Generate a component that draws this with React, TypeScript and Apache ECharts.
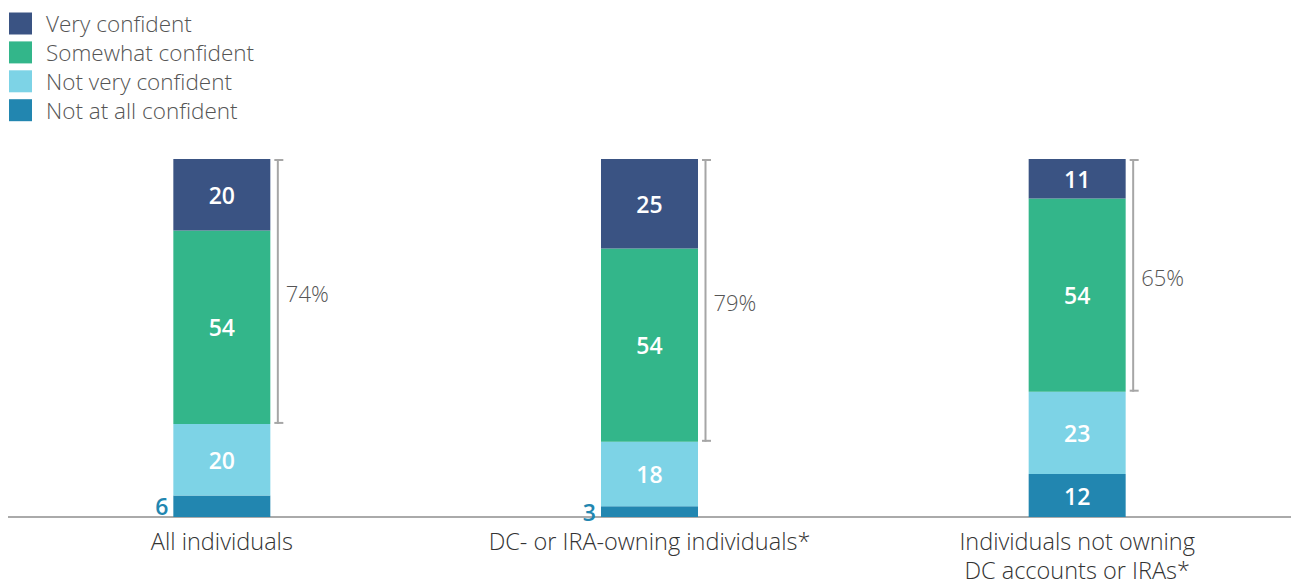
import React, { useEffect, useRef } from "react";
import * as echarts from "echarts";

const categories = [
  "All individuals",
  "DC- or IRA-owning individuals*",
  "Individuals not owning\nDC accounts or IRAs*",
];
const seriesNames = ["Very confident", "Somewhat confident", "Not very confident", "Not at all confident"];
const veryConfident = [20, 25, 11];
const somewhatConfident = [54, 54, 54];
const notVeryConfident = [20, 18, 23];
const notAtAllConfident = [6, 3, 12];
const confidentTotals = [74, 79, 65];

const colors = {
  very: "#3a5383",
  somewhat: "#33b68a",
  notVery: "#7dd3e6",
  notAtAll: "#2286b0",
};

const FONT = "'Open Sans'";

export default function App() {
  const ref = useRef<HTMLDivElement>(null);
  useEffect(() => {
    if (!ref.current) return;
    document.body.style.margin = "0";
    const chart = echarts.init(ref.current, undefined, { renderer: "svg" });
    const barWidth = 97;
    const insideLabel = {
      show: true,
      position: "inside",
      color: "#ffffff",
      fontFamily: FONT,
      fontWeight: 600,
      fontSize: 23,
    };
    const bracketData = categories.map((_, i) => [
      i,
      notAtAllConfident[i] + notVeryConfident[i],
      notAtAllConfident[i] + notVeryConfident[i] + somewhatConfident[i] + veryConfident[i],
      confidentTotals[i],
    ]);
    const option: any = {
      animation: false,
      textStyle: { fontFamily: FONT },
      legend: {
        orient: "vertical",
        left: 1,
        top: 4,
        padding: 0,
        itemWidth: 23,
        itemHeight: 22,
        itemGap: 5.9,
        icon: "rect",
        data: seriesNames,
        selectedMode: false,
        textStyle: {
          fontFamily: FONT,
          fontSize: 22.5,
          fontWeight: 300,
          color: "#555555",
          padding: [0, 0, 0, 9],
        },
      },
      grid: { left: 0, right: 0, top: 151, bottom: 63, containLabel: false, outerBoundsMode: "none" },
      xAxis: {
        type: "category",
        data: categories,
        axisTick: { show: false },
        axisLine: { lineStyle: { color: "#aaaaaa", width: 2 } },
        axisLabel: {
          color: "#333333",
          fontFamily: FONT,
          fontSize: 23.5,
          fontWeight: 300,
          margin: 9,
          lineHeight: 29,
          interval: 0,
        },
      },
      yAxis: { type: "value", min: 0, max: 100, show: false },
      series: [
        {
          name: "Not at all confident",
          type: "bar",
          stack: "s",
          barWidth,
          itemStyle: { color: colors.notAtAll },
          label: insideLabel,
          data: notAtAllConfident.map((v) =>
            v < 8
              ? { value: v, label: { position: "left", color: colors.notAtAll, distance: 5 } }
              : v
          ),
        },
        {
          name: "Not very confident",
          type: "bar",
          stack: "s",
          barWidth,
          itemStyle: { color: colors.notVery },
          label: insideLabel,
          data: notVeryConfident,
        },
        {
          name: "Somewhat confident",
          type: "bar",
          stack: "s",
          barWidth,
          itemStyle: { color: colors.somewhat },
          label: insideLabel,
          data: somewhatConfident,
        },
        {
          name: "Very confident",
          type: "bar",
          stack: "s",
          barWidth,
          itemStyle: { color: colors.very },
          label: insideLabel,
          data: veryConfident,
        },
        {
          name: "bracket",
          type: "custom",
          silent: true,
          z: 5,
          data: bracketData,
          renderItem: (params: any, api: any) => {
            const idx = api.value(0);
            const low = api.coord([idx, api.value(1)]);
            const high = api.coord([idx, api.value(2)]);
            const x = low[0] + barWidth / 2 + 7.5;
            const yTop = high[1];
            const yBot = low[1];
            const stroke = { stroke: "#a6a6a6", lineWidth: 2 };
            return {
              type: "group",
              children: [
                { type: "line", shape: { x1: x, y1: yTop, x2: x, y2: yBot }, style: stroke },
                { type: "line", shape: { x1: x - 3.5, y1: yTop + 1, x2: x + 5.5, y2: yTop + 1 }, style: stroke },
                { type: "line", shape: { x1: x - 3.5, y1: yBot - 1, x2: x + 5.5, y2: yBot - 1 }, style: stroke },
                {
                  type: "text",
                  style: {
                    x: x + 8,
                    y: (yTop + yBot) / 2 + 2,
                    text: api.value(3) + "%",
                    fill: "#555555",
                    font: `300 22px ${FONT}`,
                    textAlign: "left",
                    textVerticalAlign: "middle",
                  },
                },
              ],
            };
          },
        },
      ],
    };
    chart.setOption(option);
    return () => chart.dispose();
  }, []);
  return <div ref={ref} style={{ width: 1283, height: 572, marginLeft: 8, marginTop: 8 }} />;
}
